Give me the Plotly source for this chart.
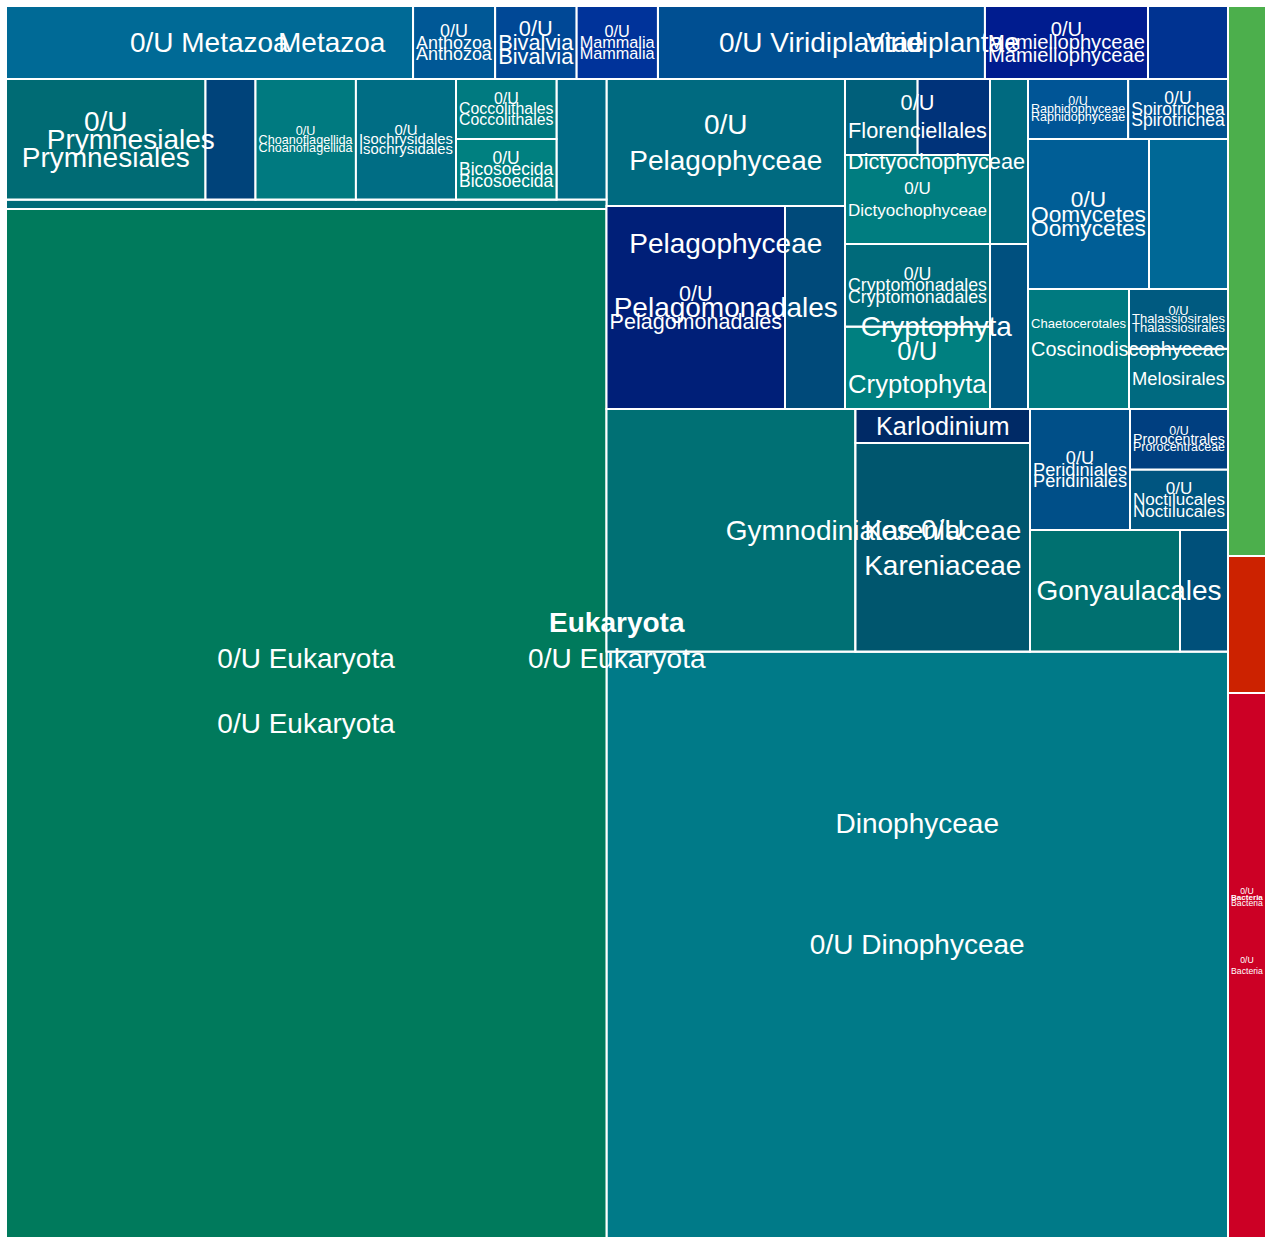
import plotly.graph_objects as go

# taxonomy tree, one entry per node (path ids, parent = path without last part)
node_ids = [
    'all',
    'Euk', 'Arc', 'Bac',
    'Bac/U', 'Bac/U/U', 'Bac/U/o',
    'Euk/Met', 'Euk/Met/U', 'Euk/Met/Ant', 'Euk/Met/Ant/U', 'Euk/Met/Biv', 'Euk/Met/Biv/U',
    'Euk/Met/Mam', 'Euk/Met/Mam/U',
    'Euk/Vir', 'Euk/Vir/U', 'Euk/Vir/Mam', 'Euk/Vir/Mam/U', 'Euk/Vir/o',
    'Euk/K', 'Euk/K/P', 'Euk/K/P/X', 'Euk/K/P/X/U', 'Euk/K/P/X/o',
    'Euk/K/P/Y', 'Euk/K/P/Y/Pry', 'Euk/K/P/Y/Pry/U', 'Euk/K/P/Y/Pry/o',
    'Euk/K/P/Y/Cho', 'Euk/K/P/Y/Cho/U', 'Euk/K/P/Y/Iso', 'Euk/K/P/Y/Iso/U',
    'Euk/K/P/Y/Bic', 'Euk/K/P/Y/Bic/U', 'Euk/K/P/Y/Coc', 'Euk/K/P/Y/Coc/U', 'Euk/K/P/Y/o',
    'Euk/K/Din', 'Euk/K/Din/U', 'Euk/K/Din/Gym', 'Euk/K/Din/Gym/U', 'Euk/K/Din/Gym/Kar',
    'Euk/K/Din/Gym/Kar/U', 'Euk/K/Din/Gym/Kar/Kdn', 'Euk/K/Din/Gon', 'Euk/K/Din/Gon/U',
    'Euk/K/Din/Gon/o', 'Euk/K/Din/Per', 'Euk/K/Din/Per/U', 'Euk/K/Din/Noc', 'Euk/K/Din/Noc/U',
    'Euk/K/Din/Pro', 'Euk/K/Din/Pro/U',
    'Euk/K/Pel', 'Euk/K/Pel/U', 'Euk/K/Pel/Pm', 'Euk/K/Pel/Pm/U', 'Euk/K/Pel/Pm/o',
    'Euk/K/Cry', 'Euk/K/Cry/U', 'Euk/K/Cry/Cm', 'Euk/K/Cry/Cm/U', 'Euk/K/Cry/o',
    'Euk/K/Dic', 'Euk/K/Dic/U', 'Euk/K/Dic/Flo', 'Euk/K/Dic/Flo/U', 'Euk/K/Dic/Flo/o', 'Euk/K/Dic/o',
    'Euk/K/Cos', 'Euk/K/Cos/Cha', 'Euk/K/Cos/Mel', 'Euk/K/Cos/Tha', 'Euk/K/Cos/Tha/U',
    'Euk/K/Oom', 'Euk/K/Oom/U', 'Euk/K/o',
    'Euk/K/Rap', 'Euk/K/Rap/U', 'Euk/K/Spi', 'Euk/K/Spi/U',
]

node_labels = [
    'all',
    'Eukaryota', 'Archaea', 'Bacteria',
    '0/U Bacteria', '0/U Bacteria', 'other Bacteria',
    'Metazoa', '0/U Metazoa', 'Anthozoa', '0/U Anthozoa', 'Bivalvia', '0/U Bivalvia',
    'Mammalia', '0/U Mammalia',
    'Viridiplantae', '0/U Viridiplantae', 'Mamiellophyceae', '0/U Mamiellophyceae', 'other Viridiplantae',
    '0/U Eukaryota', '0/U Eukaryota', '0/U Eukaryota', '0/U Eukaryota', 'other',
    '0/U Eukaryota', 'Prymnesiales', '0/U Prymnesiales', 'other Prymnesiales',
    'Choanoflagellida', '0/U Choanoflagellida', 'Isochrysidales', '0/U Isochrysidales',
    'Bicosoecida', '0/U Bicosoecida', 'Coccolithales', '0/U Coccolithales', 'other',
    'Dinophyceae', '0/U Dinophyceae', 'Gymnodiniales', '0/U Gymnodiniales', 'Kareniaceae',
    '0/U Kareniaceae', 'Karlodinium', 'Gonyaulacales', '0/U Gonyaulacales',
    'other Gonyaulacales', 'Peridiniales', '0/U Peridiniales', 'Noctilucales', '0/U Noctilucales',
    'Prorocentrales', '0/U Prorocentraceae',
    'Pelagophyceae', '0/U Pelagophyceae', 'Pelagomonadales', '0/U Pelagomonadales', 'other Pelagomonadales',
    'Cryptophyta', '0/U Cryptophyta', 'Cryptomonadales', '0/U Cryptomonadales', 'other Cryptophyta',
    'Dictyochophyceae', '0/U Dictyochophyceae', 'Florenciellales', '0/U Florenciellales',
    'other Florenciellales', 'other Dictyochophyceae',
    'Coscinodiscophyceae', 'Chaetocerotales', 'Melosirales', 'Thalassiosirales', '0/U Thalassiosirales',
    'Oomycetes', '0/U Oomycetes', 'other',
    'Raphidophyceae', '0/U Raphidophyceae', 'Spirotrichea', '0/U Spirotrichea',
]

# leaf sizes (parents are 0, they get the sum of their children)
node_values = [
    0,
    0, 20900, 0,
    0, 20710, 5206,
    0, 29711, 0, 5990, 0, 5950,
    0, 5930,
    0, 23871, 0, 11899, 5840,
    0, 0, 0, 617915, 5705,
    0, 0, 24040, 6025,
    0, 12100, 0, 12060,
    0, 6080, 0, 6030, 6025,
    0, 364510, 0, 60383, 0,
    36383, 5933, 0, 18225,
    5832, 0, 12100, 0, 5940,
    0, 5918,
    0, 30290, 0, 36236, 12180,
    0, 11980, 0, 11950, 6270,
    0, 12905, 0, 5520,
    5500, 6270,
    0, 12120, 5960, 0, 5920,
    0, 18150, 11850,
    0, 6010, 0, 5990,
]

node_colors = [
    'white',
    '#00727a', '#4caf4c', '#cc0025',
    '#cc0025', '#cc0025', '#cc2200',
    '#006a96', '#006a96', '#005896', '#005896', '#004896', '#004896',
    '#00339a', '#00339a',
    '#004f92', '#004f92', '#001c8f', '#001c8f', '#003391',
    '#00727a', '#00795c', '#00795c', '#007a5c', '#006b78',
    '#006b74', '#006b74', '#006b74', '#00437a',
    '#007a80', '#007a80', '#006d84', '#006d84',
    '#008080', '#008080', '#007a80', '#007a80', '#006a85',
    '#007a88', '#007a88', '#007074', '#007074', '#00566e',
    '#00566e', '#002a66', '#007070', '#007070',
    '#00507a', '#004f88', '#004f88', '#005580', '#005580',
    '#003f80', '#003f80',
    '#006a80', '#006a80', '#001f78', '#001f78', '#004a7a',
    '#008080', '#008080', '#006a7a', '#006a7a', '#00507f',
    '#007d80', '#007d80', '#005f7a', '#005f7a',
    '#00337a', '#006a80',
    '#007a80', '#007a80', '#006a80', '#005a80', '#005a80',
    '#005e96', '#005e96', '#006896',
    '#005596', '#005596', '#00508f', '#00508f',
]

# text written inside the cells
cell_text = {
    'Bac/U/U': '0/U<br>Bacteria',
    'Euk/Met/U': '0/U Metazoa',
    'Euk/Met/Ant/U': '0/U<br>Anthozoa',
    'Euk/Met/Biv/U': '0/U<br>Bivalvia',
    'Euk/Met/Mam/U': '0/U<br>Mammalia',
    'Euk/Vir/U': '0/U Viridiplantae',
    'Euk/Vir/Mam/U': '0/U<br>Mamiellophyceae',
    'Euk/K/P/X/U': '0/U Eukaryota',
    'Euk/K/P/Y/Pry/U': '0/U<br>Prymnesiales',
    'Euk/K/P/Y/Cho/U': '0/U<br>Choanoflagellida',
    'Euk/K/P/Y/Iso/U': '0/U<br>Isochrysidales',
    'Euk/K/P/Y/Bic/U': '0/U<br>Bicosoecida',
    'Euk/K/P/Y/Coc/U': '0/U<br>Coccolithales',
    'Euk/K/Din/U': '0/U Dinophyceae',
    'Euk/K/Din/Gym/Kar/U': '0/U<br>Kareniaceae',
    'Euk/K/Din/Gym/Kar/Kdn': 'Karlodinium',
    'Euk/K/Din/Per/U': '0/U<br>Peridiniales',
    'Euk/K/Din/Noc/U': '0/U<br>Noctilucales',
    'Euk/K/Din/Pro/U': '0/U<br>Prorocentraceae',
    'Euk/K/Pel/U': '0/U<br>Pelagophyceae',
    'Euk/K/Pel/Pm/U': '0/U<br>Pelagomonadales',
    'Euk/K/Cry/U': '0/U<br>Cryptophyta',
    'Euk/K/Cry/Cm/U': '0/U<br>Cryptomonadales',
    'Euk/K/Dic/U': '0/U<br>Dictyochophyceae',
    'Euk/K/Cos/Cha': 'Chaetocerotales<br> <br> <br> ',
    'Euk/K/Cos/Mel': 'Melosirales',
    'Euk/K/Cos/Tha/U': '0/U<br>Thalassiosirales',
    'Euk/K/Oom/U': '0/U<br>Oomycetes',
    'Euk/K/Rap/U': '0/U<br>Raphidophyceae',
    'Euk/K/Spi/U': '0/U<br>Spirotrichea',
}

# names of the groups, written over the middle of each group
group_text = {
    'Euk': '<b>Eukaryota</b>',
    'Bac': '<b>Bacteria</b>',
    'Bac/U': '0/U<br>Bacteria',
    'Euk/Met': 'Metazoa',
    'Euk/Met/Ant': 'Anthozoa',
    'Euk/Met/Biv': 'Bivalvia',
    'Euk/Met/Mam': 'Mammalia',
    'Euk/Vir': 'Viridiplantae',
    'Euk/Vir/Mam': 'Mamiellophyceae',
    'Euk/K': '0/U Eukaryota',
    'Euk/K/P': '0/U Eukaryota',
    'Euk/K/P/Y/Pry': 'Prymnesiales',
    'Euk/K/P/Y/Cho': 'Choanoflagellida',
    'Euk/K/P/Y/Iso': 'Isochrysidales',
    'Euk/K/P/Y/Bic': 'Bicosoecida',
    'Euk/K/P/Y/Coc': 'Coccolithales',
    'Euk/K/Din': 'Dinophyceae',
    'Euk/K/Din/Gym': 'Gymnodiniales',
    'Euk/K/Din/Gym/Kar': 'Kareniaceae',
    'Euk/K/Din/Gon': 'Gonyaulacales',
    'Euk/K/Din/Per': 'Peridiniales',
    'Euk/K/Din/Noc': 'Noctilucales',
    'Euk/K/Din/Pro': 'Prorocentrales',
    'Euk/K/Pel': 'Pelagophyceae',
    'Euk/K/Pel/Pm': 'Pelagomonadales',
    'Euk/K/Cry': 'Cryptophyta',
    'Euk/K/Cry/Cm': 'Cryptomonadales',
    'Euk/K/Dic': 'Dictyochophyceae',
    'Euk/K/Dic/Flo': '0/U<br>Florenciellales',
    'Euk/K/Cos': 'Coscinodiscophyceae',
    'Euk/K/Cos/Tha': 'Thalassiosirales',
    'Euk/K/Oom': 'Oomycetes',
    'Euk/K/Rap': 'Raphidophyceae',
    'Euk/K/Spi': 'Spirotrichea',
}


parents = []
depths = []
for node_id in node_ids:
    if node_id == 'all':
        parents.append('')
        depths.append(0)
    elif '/' in node_id:
        parents.append(node_id.rsplit('/', 1)[0])
        depths.append(node_id.count('/') + 1)
    else:
        parents.append('all')
        depths.append(1)

font = dict(family='Liberation Sans, Arial, sans-serif', size=28, color='white')
tiling = dict(packing='squarify', squarifyratio=1, flip='y', pad=0)
no_pad = dict(t=0, l=0, r=0, b=0)

fig = go.Figure()
fig.add_trace(go.Treemap(
    ids=node_ids, labels=node_labels, parents=parents, values=node_values,
    text=[cell_text.get(i, '') for i in node_ids], texttemplate='%{text}',
    textposition='middle center', textfont=font,
    marker=dict(colors=node_colors, line=dict(color='white', width=2), pad=no_pad),
    tiling=tiling, pathbar=dict(visible=False), sort=True, maxdepth=-1,
    hovertemplate='%{label}<extra></extra>',
))

# one see-through copy per level, cut at that level so the group names sit in the middle
for depth in sorted(set(depths), reverse=True):
    texts = [group_text.get(i, '') if d == depth else '' for i, d in zip(node_ids, depths)]
    if not any(texts):
        continue
    fig.add_trace(go.Treemap(
        ids=node_ids, labels=node_labels, parents=parents, values=node_values,
        text=texts, texttemplate='%{text}',
        textposition='middle center', textfont=font,
        marker=dict(colors=['rgba(0,0,0,0)'] * len(node_ids), line=dict(width=0), pad=no_pad),
        tiling=tiling, pathbar=dict(visible=False), sort=True, maxdepth=depth + 1,
        hoverinfo='skip',
    ))

fig.update_layout(width=1260, height=1232, margin=dict(l=0, r=0, t=0, b=0),
                  paper_bgcolor='white', showlegend=False)
# page offset of 6px so the 1260x1232 figure fills the window exactly, no scrollbars
fig.write_html('out.html', post_script="document.body.style.margin = '6px 0 0 6px';")
